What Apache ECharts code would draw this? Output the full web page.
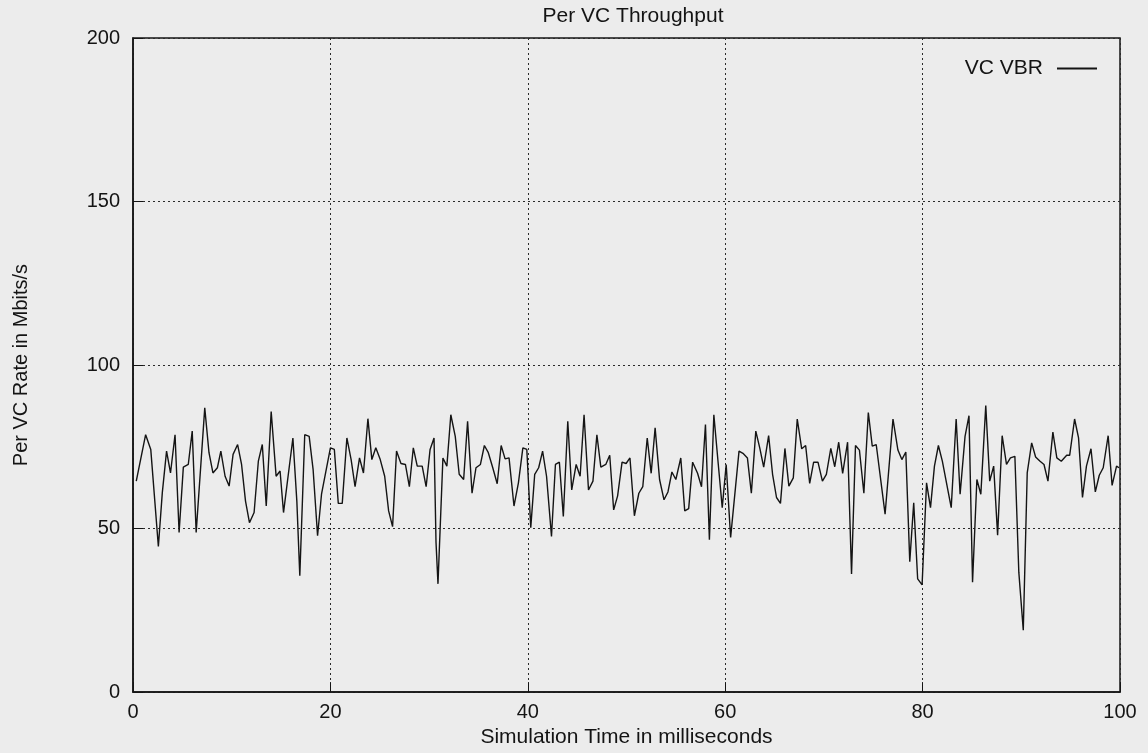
<!DOCTYPE html>
<html>
<head>
<meta charset="utf-8">
<script src="https://cdn.jsdelivr.net/npm/echarts@6/dist/echarts.min.js"></script>
<style>
html,body{margin:0;padding:0;background:#ececec;}
#c{width:1148px;height:753px;}
</style>
</head>
<body>
<div id="c"></div>
<script>
const chartTitle = "Per VC Throughput";
const xAxisName = "Simulation Time in milliseconds";
const yAxisName = "Per VC Rate in Mbits/s";
const seriesName = "VC VBR";
const xTicks = [0, 20, 40, 60, 80, 100];
const yTicks = [0, 50, 100, 150, 200];

// time (ms) of each vertex
const times = [
0.33,1.28,1.8,2.57,2.97,3.4,3.8,4.26,4.67,5.1,5.6,6.0,6.4,7.27,7.7,8.1,8.55,8.9,9.33,9.74,
10.14,10.6,11.0,11.4,11.8,12.27,12.7,13.1,13.5,14.0,14.5,14.9,15.25,16.2,16.6,16.9,17.4,17.85,18.25,18.7,
19.1,20.0,20.4,20.8,21.2,21.67,22.1,22.5,22.95,23.35,23.8,24.2,24.6,25.05,25.5,25.9,26.3,26.7,27.15,27.6,
28.0,28.4,28.8,29.3,29.7,30.1,30.5,30.7,30.9,31.4,31.8,32.2,32.65,33.05,33.5,33.9,34.35,34.75,35.2,35.6,
36.0,36.45,36.9,37.3,37.7,38.1,38.6,39.05,39.5,39.9,40.3,40.7,41.1,41.5,41.9,42.4,42.8,43.2,43.6,44.05,
44.45,44.9,45.3,45.7,46.15,46.6,47.0,47.4,47.9,48.3,48.7,49.1,49.55,49.96,50.35,50.8,51.25,51.65,52.1,52.5,
52.9,53.35,53.8,54.2,54.6,55.0,55.5,55.9,56.3,56.7,57.2,57.6,58.0,58.4,58.85,59.3,59.7,60.1,60.55,61.4,
61.8,62.25,62.65,63.1,63.5,63.9,64.4,64.8,65.2,65.6,66.05,66.45,66.9,67.3,67.75,68.15,68.56,68.96,69.4,69.85,
70.25,70.7,71.1,71.5,71.9,72.4,72.8,73.2,73.6,74.05,74.5,74.9,75.3,76.2,77.0,77.5,77.9,78.3,78.7,79.1,
79.5,79.95,80.4,80.8,81.2,81.6,82.0,82.9,83.4,83.8,84.3,84.7,85.06,85.5,85.9,86.4,86.8,87.2,87.6,88.06,
88.5,88.9,89.35,89.75,90.2,90.6,91.05,91.45,91.9,92.3,92.7,93.2,93.6,94.05,94.6,94.9,95.4,95.8,96.2,96.6,
97.06,97.5,97.9,98.3,98.8,99.2,99.65,99.9
];
// per VC rate (Mbits/s) at each vertex
const rates = [
64.5,78.7,74.2,44.5,61,73.7,67,78.7,48.8,68.8,69.6,79.8,48.8,86.9,73.2,67,68.6,73.7,66,63,
72.7,75.7,69.6,58.4,51.8,54.9,70.6,75.7,56.9,85.8,66,67.6,54.9,77.7,58.4,35.6,78.7,78.2,68,47.8,
60.5,74.7,74.2,57.7,57.7,77.7,71.1,62.8,71.6,67,83.6,71.1,74.7,71.1,66,55.4,50.6,73.7,69.9,69.6,
62.8,74.7,69.1,69.1,62.8,74.2,77.7,45.8,33.1,71.6,69.1,84.8,78.2,66.6,65,82.8,60.8,68.6,69.6,75.4,
73.2,68.6,63.7,75.4,71.3,71.6,56.9,64,74.7,74.2,50.3,66.6,68.6,73.7,66,47.6,69.6,70.3,53.7,82.8,
61.8,69.6,66,84.8,61.8,64.5,78.7,68.8,69.6,72.4,55.7,60,70.3,69.9,71.6,53.9,60.8,62.8,77.7,66.9,
80.8,65,58.8,61.2,67.3,65,71.6,55.4,56.1,70.3,66.9,62.8,81.8,46.6,84.8,69.6,56.4,69.6,47.3,73.7,
73,71.6,60.8,79.8,74.7,68.8,78.4,66.6,59.5,57.7,74.5,63,65.5,83.5,74.4,75.4,63.8,70.3,70.3,64.5,
66.6,74.5,68.9,76.4,66.9,76.4,36.1,75.4,74,60.8,85.5,75.2,75.7,54.4,83.5,74,71.1,73.4,39.9,57.9,
34.6,32.8,64,56.4,69.1,75.4,70.6,56.4,83.5,60.5,78.2,84.5,33.6,65,60.5,87.6,64.5,69.1,48,78.4,
69.6,71.6,72.1,36.6,18.9,67,76.2,71.9,70.6,69.6,64.5,79.5,71.6,70.6,72.4,72.4,83.5,77.7,59.5,69.1,
74.4,61.2,66.3,68.6,78.4,63.2,69.1,68.6
];

const points = times.map((t, i) => [t, rates[i]]);
const font = "'Liberation Sans', Arial, sans-serif";
const ink = '#141414';

const chart = echarts.init(document.getElementById('c'), null, {renderer: 'canvas'});
chart.setOption({
  backgroundColor: '#ececec',
  animation: false,
  title: {
    text: chartTitle,
    left: 628, top: 1, textAlign: 'center',
    textStyle: {fontFamily: font, fontSize: 21, fontWeight: 'normal', color: ink}
  },
  legend: {
    data: [{name: seriesName, icon: 'path://M0,0 L40,0 L40,2 L0,2 Z'}],
    right: 46, top: 53, align: 'right',
    itemWidth: 42, itemHeight: 2,
    textStyle: {fontFamily: font, fontSize: 21, color: ink, padding: [0, 8, 0, 0]}
  },
  grid: {left: 133, right: 28, top: 38, bottom: 53, show: true, borderColor: ink, borderWidth: 1.5, backgroundColor: 'transparent'},
  xAxis: {
    type: 'value', min: 0, max: 100, interval: 20,
    name: xAxisName, nameLocation: 'middle', nameGap: 29,
    nameTextStyle: {fontFamily: font, fontSize: 21, color: ink},
    axisLine: {show: true, onZero: false, lineStyle: {color: ink, width: 1.5}},
    axisTick: {show: true, inside: true, length: 10, lineStyle: {color: ink}},
    axisLabel: {fontFamily: font, fontSize: 20, color: ink, margin: 10,
      formatter: v => xTicks.includes(v) ? String(v) : ''},
    splitLine: {show: true, lineStyle: {color: '#2a2a2a', type: [2, 3], width: 1}}
  },
  yAxis: {
    type: 'value', min: 0, max: 200, interval: 50,
    name: yAxisName, nameLocation: 'middle', nameGap: 102, nameRotate: 90,
    nameTextStyle: {fontFamily: font, fontSize: 20, color: ink},
    axisLine: {show: true, lineStyle: {color: ink, width: 1.5}},
    axisTick: {show: true, inside: true, length: 10, lineStyle: {color: ink}},
    axisLabel: {fontFamily: font, fontSize: 20, color: ink, margin: 13,
      formatter: v => yTicks.includes(v) ? String(v) : ''},
    splitLine: {show: true, lineStyle: {color: '#2a2a2a', type: [2, 3], width: 1}}
  },
  series: [{
    name: seriesName, type: 'line', data: points,
    showSymbol: false, symbol: 'none',
    lineStyle: {color: ink, width: 1.4},
    itemStyle: {color: ink}
  }]
});
</script>
</body>
</html>
